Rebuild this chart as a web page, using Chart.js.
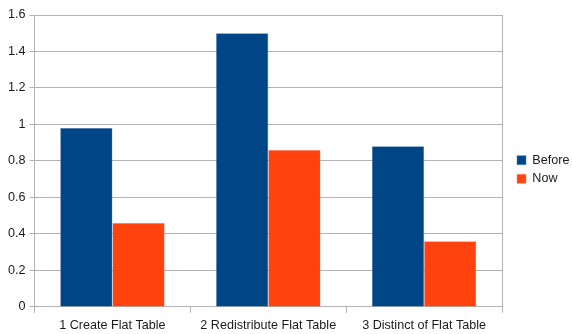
<!DOCTYPE html>
<html>
<head>
<meta charset="utf-8">
<script src="https://cdn.jsdelivr.net/npm/chart.js@4/dist/chart.umd.min.js"></script>
<style>
  html, body { margin: 0; padding: 0; background: #fff; }
  #wrap { width: 572px; height: 334px; }
</style>
</head>
<body>
<div id="wrap"><canvas id="bar"></canvas></div>
<script>
const categories = ['1 Create Flat Table', '2 Redistribute Flat Table', '3 Distinct of Flat Table'];
const before = [0.98, 1.5, 0.88];
const now = [0.46, 0.86, 0.36];
const yTicks = [0, 0.2, 0.4, 0.6, 0.8, 1, 1.2, 1.4, 1.6];

Chart.defaults.font.family = '"Liberation Sans", Arial, sans-serif';
Chart.defaults.font.size = 12.6;
Chart.defaults.color = '#1a1a1a';

// rechter Rahmen der Plotfläche + feste Legendenbreite
const tweaks = {
  id: 'tweaks',
  beforeUpdate(chart) {
    const lg = chart.legend;
    if (lg && !lg._patched) {
      const fit = lg.fit;
      lg.fit = function () { fit.call(this); this.width = 70; };
      lg._patched = true;
    }
  },
  afterLayout(chart) {
    const lg = chart.legend;
    if (lg) {
      lg.left += 9;
      lg.top -= 7;
      lg.bottom -= 7;
    }
  },
  afterDraw(chart) {
    const { ctx, chartArea } = chart;
    ctx.save();
    ctx.strokeStyle = '#b3b3b3';
    ctx.lineWidth = 1;
    ctx.beginPath();
    ctx.moveTo(Math.round(chartArea.right) + 0.5, chartArea.top);
    ctx.lineTo(Math.round(chartArea.right) + 0.5, chartArea.bottom);
    ctx.stroke();
    ctx.restore();
  }
};

new Chart(document.getElementById('bar'), {
  type: 'bar',
  data: {
    labels: categories,
    datasets: [{
      label: 'Before',
      data: before,
      backgroundColor: '#004586',
      borderColor: '#4f81b3',
      borderWidth: 0.5
    }, {
      label: 'Now',
      data: now,
      backgroundColor: '#ff420e',
      borderColor: '#ff8a6a',
      borderWidth: 0.5
    }]
  },
  options: {
    responsive: true,
    maintainAspectRatio: false,
    animation: false,
    layout: { padding: { top: 15, left: 4, right: 0, bottom: -4 } },
    datasets: { bar: { categoryPercentage: 0.67, barPercentage: 1 } },
    plugins: {
      tooltip: { enabled: false },
      legend: {
        position: 'right',
        align: 'center',
        labels: { boxWidth: 9, boxHeight: 9, padding: 6, color: '#1a1a1a' }
      }
    },
    scales: {
      x: {
        grid: { drawOnChartArea: false, drawTicks: true, tickLength: 6, color: '#b3b3b3' },
        border: { color: '#b3b3b3' },
        ticks: { maxRotation: 0, padding: 5 }
      },
      y: {
        min: 0,
        max: 1.6,
        afterBuildTicks: axis => { axis.ticks = yTicks.map(v => ({ value: v })); },
        grid: { color: '#b3b3b3', tickLength: 5 },
        border: { color: '#b3b3b3' },
        ticks: { padding: 4, callback: v => String(+v.toFixed(1)) }
      }
    }
  },
  plugins: [tweaks]
});
</script>
</body>
</html>
